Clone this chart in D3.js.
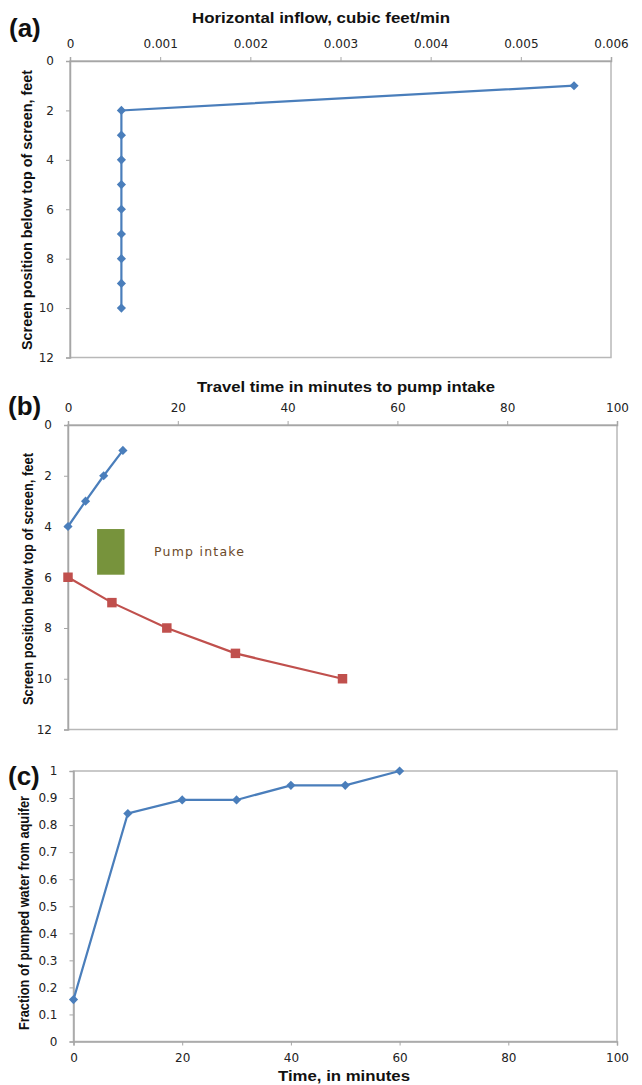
<!doctype html>
<html lang="en">
  <head>
    <meta charset="UTF-8" />
    <title>Screen inflow and travel time</title>
    <style>
      body { margin: 0; background: #fff; }
      svg { display: block; }
      .tick text { font-family: "DejaVu Sans", sans-serif; font-size: 12px; fill: #222; }
      .tick line { stroke: #a6a6a6; }
      .domain { stroke: #a6a6a6; stroke-width: 1.5; }
      .ttl { font-family: "Liberation Sans", Arial, sans-serif; font-weight: bold; font-size: 14px; fill: #111; }
      .tag { font-family: "Liberation Sans", Arial, sans-serif; font-weight: bold; font-size: 26px; fill: #111; }
    </style>
  </head>
  <body>
    <svg id="chart"></svg>
    <script src="https://d3js.org/d3.v7.min.js"></script>
    <script>
      /* global d3 */
      const width = 642, height = 1085;

      // (a) horizontal inflow vs position below top of screen
      const depthA = [1, 2, 3, 4, 5, 6, 7, 8, 9, 10];
      const inflowA = [0.00559, 0.00057, 0.00057, 0.00057, 0.00057, 0.00057, 0.00057, 0.00057, 0.00057, 0.00057];
      const ticksA = [0, 0.001, 0.002, 0.003, 0.004, 0.005, 0.006];
      const depthTicks = [0, 2, 4, 6, 8, 10, 12];

      // (b) travel time to pump intake
      const upperTime = [0, 3.2, 6.5, 10];
      const upperDepth = [4, 3, 2, 1];
      const lowerTime = [0, 8, 18, 30.5, 50];
      const lowerDepth = [6, 7, 8, 9, 10];
      const pumpTime = [5.3, 10.3];
      const pumpDepth = [4.1, 5.9];
      const timeTicks = [0, 20, 40, 60, 80, 100];

      // (c) fraction from aquifer
      const timeC = [0, 10, 20, 30, 40, 50, 60];
      const fracC = [0.155, 0.843, 0.893, 0.893, 0.947, 0.947, 1.0];
      const fracTicks = [0, 0.1, 0.2, 0.3, 0.4, 0.5, 0.6, 0.7, 0.8, 0.9, 1];

      const blue = "#4a7ebb", red = "#c0504d", green = "#77933c";

      const svg = d3.select("#chart").attr("width", width).attr("height", height);

      function frame(x0, x1, y0, y1) {
        svg.append("rect")
          .attr("x", x0).attr("y", y0)
          .attr("width", x1 - x0).attr("height", y1 - y0)
          .attr("fill", "none").attr("stroke", "#b8b8b8").attr("stroke-width", 1.5);
      }

      function vTitle(txt, cx, cy, len) {
        svg.append("text").attr("class", "ttl")
          .attr("transform", `translate(${cx},${cy}) rotate(-90)`)
          .attr("text-anchor", "middle").attr("dy", "0.35em")
          .attr("textLength", len).attr("lengthAdjust", "spacingAndGlyphs")
          .text(txt);
      }

      function hTitle(txt, cx, cy, len) {
        svg.append("text").attr("class", "ttl")
          .attr("x", cx).attr("y", cy)
          .attr("text-anchor", "middle").attr("dy", "0.35em")
          .attr("textLength", len).attr("lengthAdjust", "spacingAndGlyphs")
          .text(txt);
      }

      function tag(txt, x, y) {
        svg.append("text").attr("class", "tag").attr("x", x).attr("y", y).text(txt);
      }

      const diamond = d3.symbol(d3.symbolSquare, 42);
      const square = d3.symbol(d3.symbolSquare, 90);

      function series(xs, ys, xScale, yScale, color, shape, rot) {
        const pts = xs.map((v, i) => [xScale(v), yScale(ys[i])]);
        svg.append("path")
          .attr("d", d3.line()(pts))
          .attr("fill", "none").attr("stroke", color).attr("stroke-width", 2.2);
        svg.append("g").selectAll("path").data(pts).join("path")
          .attr("d", shape)
          .attr("transform", (p) => `translate(${p[0]},${p[1]}) rotate(${rot})`)
          .attr("fill", color);
      }

      // ---------- panel (a)
      {
        const xA = d3.scaleLinear().domain([0, 0.006]).range([70, 611]);
        const yA = d3.scaleLinear().domain([0, 12]).range([61, 357.5]);
        frame(70, 611, 61, 357.5);
        svg.append("g").attr("transform", "translate(0,61)")
          .call(d3.axisTop(xA).tickValues(ticksA).tickSize(4).tickPadding(9)
            .tickFormat((d) => (d === 0 ? "0" : d3.format(".3f")(d))));
        svg.append("g").attr("transform", "translate(70,0)")
          .call(d3.axisLeft(yA).tickValues(depthTicks).tickSize(4).tickPadding(12));
        hTitle("Horizontal inflow, cubic feet/min", 321, 18, 258);
        vTitle("Screen position below top of screen, feet", 27, 210, 280);
        tag("(a)", 9, 37);
        series(inflowA, depthA, xA, yA, blue, diamond, 45);
      }

      // ---------- panel (b)
      {
        const xB = d3.scaleLinear().domain([0, 100]).range([68, 617]);
        const yB = d3.scaleLinear().domain([0, 12]).range([425, 729.5]);
        frame(68, 617, 425, 729.5);
        svg.append("g").attr("transform", "translate(0,425)")
          .call(d3.axisTop(xB).tickValues(timeTicks).tickSize(4).tickPadding(9));
        svg.append("g").attr("transform", "translate(68,0)")
          .call(d3.axisLeft(yB).tickValues(depthTicks).tickSize(4).tickPadding(12));
        hTitle("Travel time in minutes to pump intake", 346, 387, 298);
        vTitle("Screen position below top of screen, feet", 28, 579, 252);
        tag("(b)", 8, 415);

        svg.append("rect")
          .attr("x", xB(pumpTime[0])).attr("y", yB(pumpDepth[0]))
          .attr("width", xB(pumpTime[1]) - xB(pumpTime[0]))
          .attr("height", yB(pumpDepth[1]) - yB(pumpDepth[0]))
          .attr("fill", green);
        svg.append("text")
          .attr("x", 154).attr("y", yB(5)).attr("dy", "0.35em")
          .attr("font-family", "DejaVu Sans, sans-serif").attr("font-size", 12.5)
          .attr("fill", "#6b4a2a")
          .attr("textLength", 90).attr("lengthAdjust", "spacing")
          .text("Pump intake");

        series(upperTime, upperDepth, xB, yB, blue, diamond, 45);
        series(lowerTime, lowerDepth, xB, yB, red, square, 0);
      }

      // ---------- panel (c)
      {
        const xC = d3.scaleLinear().domain([0, 100]).range([73.5, 617]);
        const yC = d3.scaleLinear().domain([0, 1]).range([1041.5, 771]);
        frame(73.5, 617, 771, 1041.5);
        svg.append("g").attr("transform", "translate(0,1041.5)")
          .call(d3.axisBottom(xC).tickValues(timeTicks).tickSize(4).tickPadding(8));
        svg.append("g").attr("transform", "translate(73.5,0)")
          .call(d3.axisLeft(yC).tickValues(fracTicks).tickSize(4).tickPadding(12)
            .tickFormat((d) => (d === 0 || d === 1 ? String(d) : d3.format(".1f")(d))));
        hTitle("Time, in minutes", 344, 1076, 132);
        vTitle("Fraction of pumped water from aquifer", 24, 913, 234);
        tag("(c)", 8, 785);
        series(timeC, fracC, xC, yC, blue, diamond, 45);
      }
    </script>
  </body>
</html>
